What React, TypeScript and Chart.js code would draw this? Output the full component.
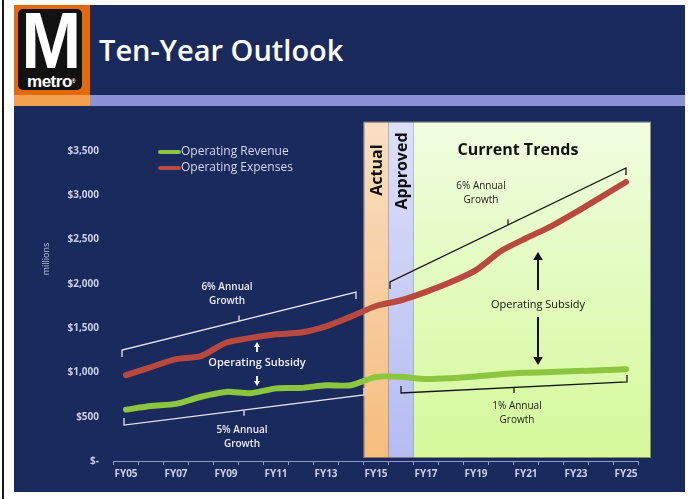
import React, { useEffect, useRef } from 'react';
import { Chart, registerables } from 'chart.js';

Chart.register(...registerables);

// ---------- data ----------
const categories = ['FY05', 'FY06', 'FY07', 'FY08', 'FY09', 'FY10', 'FY11', 'FY12', 'FY13', 'FY14', 'FY15', 'FY16', 'FY17', 'FY18', 'FY19', 'FY20', 'FY21', 'FY22', 'FY23', 'FY24', 'FY25'];
const revenue = [580, 620, 645, 725, 780, 765, 820, 825, 855, 855, 950, 950, 925, 935, 955, 980, 995, 1005, 1015, 1025, 1035];
const expenses = [970, 1060, 1150, 1185, 1335, 1390, 1430, 1450, 1520, 1630, 1750, 1815, 1910, 2020, 2155, 2370, 2515, 2650, 2810, 2980, 3150];
const seriesNames = ['Operating Revenue', 'Operating Expenses'];
const yTickValues = [0, 500, 1000, 1500, 2000, 2500, 3000, 3500];
const yTickLabels = ['$-', '$500', '$1,000', '$1,500', '$2,000', '$2,500', '$3,000', '$3,500'];
const periodNames = ['Actual', 'Approved', 'Current Trends'];
const growthLabels = ['6% Annual', 'Growth', '5% Annual', '1% Annual'];
const subsidyLabel = 'Operating Subsidy';
const axisTitle = 'millions';
const slideTitle = 'Ten-Year Outlook';

// ---------- styles / layout ----------
const NAVY = '#1b2a5c';
const RED = '#b9493f';
const GREEN = '#8cc63f';
const AXIS = '#8f9bc4';
const TICK_TXT = '#c8cfe8';
const FONT = '"Open Sans", "DejaVu Sans", sans-serif';

// annotation anchors in data coordinates (category index, value)
const brackets = [
  { x1: -0.16, v1: 1253, x2: 9.2, v2: 1908, hook: 7, color: '#e2e6f2' },
  { x1: -0.08, v1: 406, x2: 9.52, v2: 745, hook: -7, color: '#e2e6f2' },
  { x1: 10.56, v1: 2021, x2: 20.0, v2: 3308, hook: 7, color: '#151515' },
  { x1: 11.0, v1: 768, x2: 20.04, v2: 892, hook: -7, color: '#151515' },
];

const decor = {
  id: 'decor',
  beforeDatasetsDraw(chart: any) {
    const { ctx, scales } = chart;
    const x = scales.x;
    const y = scales.y;
    const top = y.getPixelForValue(3830);
    const bottom = y.getPixelForValue(0) - 3;
    const bands = [
      { from: 9.5, to: 10.5, c1: '#f9dfc4', c2: '#f5bd7c' },
      { from: 10.5, to: 11.5, c1: '#dde0f9', c2: '#b4bcf3' },
      { from: 11.5, to: 21.0, c1: '#f0fde0', c2: '#d5f99a' },
    ];
    ctx.save();
    bands.forEach((b) => {
      const l = x.getPixelForValue(b.from);
      const r = x.getPixelForValue(b.to);
      const g = ctx.createLinearGradient(0, top, 0, bottom);
      g.addColorStop(0, b.c1);
      g.addColorStop(1, b.c2);
      ctx.fillStyle = g;
      ctx.fillRect(l, top, r - l, bottom - top);
    });
    const bl = x.getPixelForValue(9.5);
    const br = x.getPixelForValue(21.0);
    ctx.strokeStyle = 'rgba(60,60,60,0.55)';
    ctx.lineWidth = 1;
    ctx.strokeRect(bl + 0.5, top + 0.5, br - bl - 1, bottom - top - 1);

    // vertical period labels
    ctx.fillStyle = '#111';
    ctx.font = `bold 16px ${FONT}`;
    ctx.textAlign = 'center';
    ctx.textBaseline = 'middle';
    [[10, 3285, periodNames[0]], [11, 3274, periodNames[1]]].forEach(([i, v, t]: any) => {
      ctx.save();
      ctx.translate(x.getPixelForValue(i), y.getPixelForValue(v));
      ctx.rotate(-Math.PI / 2);
      ctx.fillText(t, 0, 1);
      ctx.restore();
    });
    ctx.fillText(periodNames[2], x.getPixelForValue(15.68), y.getPixelForValue(3511));
    ctx.restore();
  },
  afterDatasetsDraw(chart: any) {
    const { ctx, scales, chartArea } = chart;
    const x = scales.x;
    const y = scales.y;
    ctx.save();
    // brackets
    brackets.forEach((b) => {
      const x1 = x.getPixelForValue(b.x1);
      const y1 = y.getPixelForValue(b.v1);
      const x2 = x.getPixelForValue(b.x2);
      const y2 = y.getPixelForValue(b.v2);
      const mx = (x1 + x2) / 2;
      const my = (y1 + y2) / 2;
      ctx.strokeStyle = b.color;
      ctx.lineWidth = 1.3;
      ctx.lineJoin = 'miter';
      ctx.beginPath();
      ctx.moveTo(x1, y1 + b.hook);
      ctx.lineTo(x1, y1);
      ctx.lineTo(x2, y2);
      ctx.lineTo(x2, y2 + b.hook);
      ctx.moveTo(mx, my);
      ctx.lineTo(mx, my - b.hook * 0.8);
      ctx.stroke();
    });

    const twoLines = (t1: string, t2: string, i: number, v: number, color: string, weight: string) => {
      ctx.fillStyle = color;
      ctx.font = `${weight} 10px ${FONT}`;
      ctx.textAlign = 'center';
      ctx.textBaseline = 'middle';
      const cx = x.getPixelForValue(i);
      const cy = y.getPixelForValue(v);
      ctx.fillText(t1, cx, cy - 7);
      ctx.fillText(t2, cx, cy + 7);
    };
    twoLines(growthLabels[0], growthLabels[1], 4.04, 1885, '#e8ebf5', '600');
    twoLines(growthLabels[2], growthLabels[1], 4.64, 271, '#e8ebf5', '600');
    twoLines(growthLabels[0], growthLabels[1], 14.2, 3026, '#1a1a1a', 'normal');
    twoLines(growthLabels[3], growthLabels[1], 15.64, 542, '#1a1a1a', 'normal');

    const arrow = (ax: number, yFrom: number, yTo: number, color: string, w: number, head: number) => {
      const dir = yTo > yFrom ? 1 : -1;
      ctx.strokeStyle = color;
      ctx.fillStyle = color;
      ctx.lineWidth = w;
      ctx.beginPath();
      ctx.moveTo(ax, yFrom);
      ctx.lineTo(ax, yTo - dir * head);
      ctx.stroke();
      ctx.beginPath();
      ctx.moveTo(ax, yTo);
      ctx.lineTo(ax - head * 0.6, yTo - dir * head);
      ctx.lineTo(ax + head * 0.6, yTo - dir * head);
      ctx.closePath();
      ctx.fill();
    };

    // left subsidy
    const lx = x.getPixelForValue(5.24);
    const ly = y.getPixelForValue(1106);
    ctx.fillStyle = '#eef0f8';
    ctx.font = `600 11px ${FONT}`;
    ctx.textAlign = 'center';
    ctx.textBaseline = 'middle';
    ctx.fillText(subsidyLabel, lx, ly);
    arrow(lx, ly - 11, ly - 21, '#eef0f8', 2, 5);
    arrow(lx, ly + 13, ly + 23, '#eef0f8', 2, 5);

    // right subsidy
    const rx = x.getPixelForValue(16.48);
    const ry = y.getPixelForValue(1761);
    ctx.fillStyle = '#111';
    ctx.font = `normal 11px ${FONT}`;
    ctx.fillText(subsidyLabel, rx, ry);
    arrow(rx, y.getPixelForValue(1931), y.getPixelForValue(2360), '#111', 2, 8);
    arrow(rx, y.getPixelForValue(1626), y.getPixelForValue(1084), '#111', 2, 8);

    // legend
    const legX = chartArea.left + 44.5;
    const legY = chartArea.top + 1;
    [GREEN, RED].forEach((c, k) => {
      const yy = legY + k * 16;
      ctx.strokeStyle = c;
      ctx.lineWidth = 4;
      ctx.lineCap = 'round';
      ctx.beginPath();
      ctx.moveTo(legX + 2, yy);
      ctx.lineTo(legX + 21, yy);
      ctx.stroke();
      ctx.fillStyle = '#d3d8ee';
      ctx.font = `normal 12px ${FONT}`;
      ctx.textAlign = 'left';
      ctx.textBaseline = 'middle';
      ctx.fillText(seriesNames[k], legX + 23, yy);
    });

    // axis title
    ctx.save();
    ctx.translate(32, chartArea.top + 108);
    ctx.rotate(-Math.PI / 2);
    ctx.fillStyle = '#b9c1dd';
    ctx.font = `normal 9px ${FONT}`;
    ctx.textAlign = 'center';
    ctx.textBaseline = 'middle';
    ctx.fillText(axisTitle, 0, 0);
    ctx.restore();
    ctx.restore();
  },
};

export default function App() {
  const ref = useRef<HTMLCanvasElement>(null);
  useEffect(() => {
    const chart = new Chart(ref.current as HTMLCanvasElement, {
      type: 'line',
      data: {
        labels: categories,
        datasets: [
          { label: seriesNames[0], data: revenue, borderColor: GREEN, backgroundColor: GREEN, borderWidth: 6, pointRadius: 0, tension: 0.25, borderCapStyle: 'round', borderJoinStyle: 'round' },
          { label: seriesNames[1], data: expenses, borderColor: RED, backgroundColor: RED, borderWidth: 6, pointRadius: 0, tension: 0.25, borderCapStyle: 'round', borderJoinStyle: 'round' },
        ],
      },
      options: {
        responsive: false,
        animation: false,
        devicePixelRatio: 1,
        layout: { padding: { left: 0, right: 46.5, top: 45, bottom: 0 } },
        plugins: { legend: { display: false }, tooltip: { enabled: false } },
        scales: {
          x: {
            type: 'category',
            offset: true,
            grid: { display: true, drawOnChartArea: false, offset: true, tickLength: 4, color: AXIS },
            border: { display: true, color: AXIS, width: 1 },
            ticks: {
              autoSkip: false,
              maxRotation: 0,
              padding: 3,
              color: TICK_TXT,
              font: { family: FONT, size: 10, weight: 'bold' },
              callback: (_v: any, i: number) => (i % 2 === 0 ? categories[i] : ''),
            },
            afterFit: (s: any) => { s.height = 31; },
          },
          y: {
            min: 0,
            max: 3500,
            grid: { display: false, drawTicks: false },
            border: { display: false },
            afterBuildTicks: (s: any) => { s.ticks = yTickValues.map((v) => ({ value: v })); },
            ticks: {
              padding: 14.5,
              color: TICK_TXT,
              font: { family: FONT, size: 10, weight: 'bold' },
              callback: (_v: any, i: number) => yTickLabels[i],
            },
            afterFit: (s: any) => { s.width = 99.5; },
          },
        },
      } as any,
      plugins: [decor],
    });
    return () => chart.destroy();
  }, []);

  return (
    <div style={{ position: 'fixed', left: 0, top: 0, width: 696, height: 499, background: '#fff', overflow: 'hidden' }}>
      <div style={{ position: 'absolute', left: 2, top: 0, width: 2, height: 499, background: '#161616' }} />
      <div style={{ position: 'absolute', left: 14, top: 5, width: 671, height: 487, background: NAVY }}>
        <div style={{ position: 'absolute', left: 0, top: 0, width: 76, height: 90, background: '#e2690c' }} />
        <div style={{ position: 'absolute', left: 0, top: 90, width: 76, height: 11, background: '#f2a04e' }} />
        <div style={{ position: 'absolute', left: 76, top: 90, width: 595, height: 11, background: '#8b92d6' }} />
        <div style={{ position: 'absolute', left: 4, top: 4, width: 64, height: 81, background: '#121212', borderRadius: 5, overflow: 'hidden' }}>
          <div style={{ position: 'absolute', left: 0, top: -8, width: 64, textAlign: 'center', color: '#fff', fontFamily: '"Liberation Sans", Arial, sans-serif', fontWeight: 'bold', fontSize: 80, lineHeight: '80px', transform: 'scaleX(0.9)' }}>M</div>
          <div style={{ position: 'absolute', left: 3, top: 64, width: 60, textAlign: 'center', color: '#fff', fontFamily: '"Liberation Sans", Arial, sans-serif', fontWeight: 'bold', fontSize: 17, lineHeight: '17px', letterSpacing: -0.5 }}>metro<span style={{ fontSize: 5, verticalAlign: 'top' }}>®</span></div>
        </div>
        <div style={{ position: 'absolute', left: 85, top: 30, color: '#fff', fontFamily: FONT, fontWeight: 600, fontSize: 29, lineHeight: '29px', whiteSpace: 'nowrap' }}>{slideTitle}</div>
      </div>
      <canvas ref={ref} width={671} height={386} style={{ position: 'absolute', left: 14, top: 106, width: 671, height: 386 }} />
    </div>
  );
}
